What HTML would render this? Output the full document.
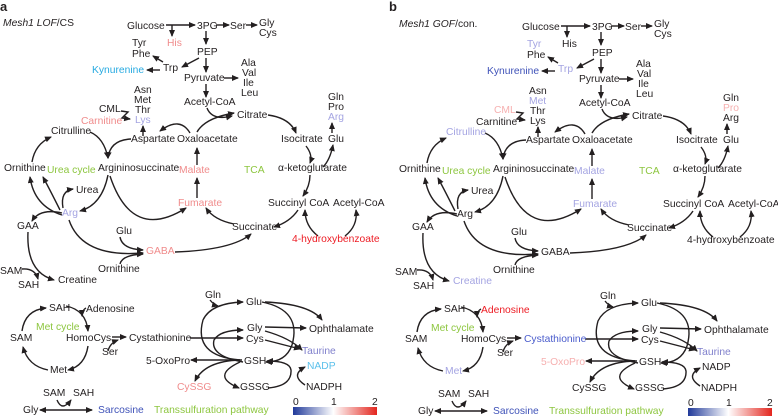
<!DOCTYPE html>
<html><head><meta charset="utf-8"><style>
html,body{margin:0;padding:0;background:#fff}
svg{display:block}
text{font-family:"Liberation Sans",Arial,sans-serif;font-size:10.3px;fill:#231f20}
.g{fill:#8dc63f}.pk{fill:#f08c8c}.lp{fill:#f6b0b0}.lv{fill:#a4a4e2}.bl{fill:#3f52b8}.cy{fill:#27aae1}.rd{fill:#ed1c24}.tb{fill:#8080cc}.nb{fill:#5bc0eb}.mb{fill:#4a5ccc}
</style></head><body>
<svg width="778" height="417" viewBox="0 0 778 417" xmlns="http://www.w3.org/2000/svg">
<defs>
<marker id="ah" markerWidth="7" markerHeight="6" refX="6" refY="3" orient="auto" markerUnits="userSpaceOnUse"><path d="M0,0 L7,3 L0,6 z" fill="#231f20"/></marker>
<marker id="as" markerWidth="7" markerHeight="6" refX="1" refY="3" orient="auto" markerUnits="userSpaceOnUse"><path d="M7,0 L0,3 L7,6 z" fill="#231f20"/></marker>
<linearGradient id="cb" x1="0" x2="1"><stop offset="0" stop-color="#213a9a"/><stop offset="0.48" stop-color="#ffffff"/><stop offset="1" stop-color="#e3261e"/></linearGradient>
<g id="arr" fill="none" stroke="#231f20" stroke-width="1.4" marker-end="url(#ah)">
<path d="M166,25 L195,25"/><path d="M172,25 L172,36"/><path d="M216,25 L229,25"/><path d="M246,25 L257,25"/>
<path d="M206,31 L206,44"/><path d="M199,58 L182,67"/><path d="M206,58 L206,72"/><path d="M163,62 L153,56"/>
<path d="M160,70 L147,70"/><path d="M224,78 L238,78"/><path d="M206,84 L206,97"/>
<path d="M207,108 Q212,121 232,116"/>
<path d="M197,132 Q205,118 234,113"/>
<path d="M268,115 Q290,118 296,133"/><path d="M306,146 Q313,155 310,163"/><path d="M310,175 Q310,186 303,196"/>
<path d="M298,210 Q290,222 274,227"/><path d="M234,224 Q214,220 206,208"/>
<path d="M197,198 L197,178"/><path d="M197,165 L197,148"/>
<path d="M323,167 Q330,160 333,145"/><path d="M332,133 L332,123"/>
<path d="M318,236 Q305,226 305,210"/><path d="M345,236 Q358,226 356,210"/>
<path d="M190,133 Q180,116 160,131"/><path d="M143,136 L143,126"/>
<path d="M121,111 L128,112 L122,118 L130,119"/>
<path d="M131,139 Q110,140 108,158"/><path d="M90,132 Q104,138 108,158"/>
<path d="M108,175 Q102,205 80,211"/><path d="M110,176 Q132,242 186,208"/>
<path d="M62,215 Q34,206 30,177"/><path d="M60,210 Q50,190 43,177"/>
<path d="M32,162 Q35,144 51,137"/><path d="M63,208 Q60,191 73,189"/>
<path d="M62,213 Q40,208 32,221"/>
<path d="M69,220 Q82,258 143,253"/><path d="M120,237 Q122,249 143,250"/><path d="M120,264 Q122,255 143,254"/>
<path d="M175,252 Q232,250 251,234"/>
<path d="M28,232 Q26,272 54,280"/><path d="M22,269 Q35,268 38,279"/>
<path d="M22,331 Q25,310 46,308"/><path d="M66,306 Q86,310 88,331"/><path d="M88,346 Q85,366 68,370"/><path d="M48,370 Q28,366 23,347"/>
<path d="M86,308 Q82,310 82,316"/>
<path d="M112,337 L126,337"/><path d="M108,351 Q110,343 118,340"/><path d="M190,338 L243,338"/>
<path d="M210,300 Q214,305 218,306"/>
<path d="M240,360 Q193,356 203,320 Q211,303 243,302"/>
<path d="M243,362 Q210,356 214,340 Q220,330 243,330"/>
<path d="M262,302 Q302,310 292,345 Q286,362 266,362"/>
<path d="M265,302 Q310,304 322,320"/><path d="M265,327 L306,328"/>
<path d="M265,331 Q290,338 302,350"/><path d="M265,340 L300,349"/>
<path d="M242,360 L191,360"/><path d="M240,360 Q205,361 195,381"/>
<path d="M240,362 Q210,376 239,388"/><path d="M268,388 Q292,386 291,370 Q290,361 267,361"/>
<path d="M305,385 Q290,375 305,367"/>
<path d="M57,400 Q62,412 71,400"/>
<path d="M40,410 L92,410" marker-start="url(#as)"/>
</g>
</defs>

<use href="#arr"/>
<g transform="translate(395,1)"><use href="#arr"/></g>

<!-- panel a -->
<g>
<text x="0" y="11" style="font-weight:bold;font-size:13px">a</text>
<text x="3" y="26"><tspan font-style="italic">Mesh1 LOF</tspan>/CS</text>
<text x="127" y="29">Glucose</text><text x="197" y="29">3PG</text><text x="230" y="29">Ser</text>
<text x="259" y="26">Gly</text><text x="259" y="36">Cys</text>
<text x="167" y="46" class="pk">His</text><text x="132" y="46">Tyr</text><text x="132" y="57">Phe</text>
<text x="197" y="55">PEP</text><text x="163" y="71">Trp</text><text x="92" y="73" class="cy">Kynurenine</text>
<text x="241" y="66">Ala</text><text x="242" y="76">Val</text><text x="243" y="86">Ile</text><text x="241" y="96">Leu</text>
<text x="184" y="81">Pyruvate</text><text x="184" y="105">Acetyl-CoA</text>
<text x="134" y="93">Asn</text><text x="134" y="103">Met</text><text x="135" y="113">Thr</text><text x="135" y="123" class="lv">Lys</text>
<text x="99" y="112">CML</text><text x="81" y="124" class="pk">Carnitine</text>
<text x="237" y="118">Citrate</text>
<text x="328" y="100">Gln</text><text x="328" y="110">Pro</text><text x="328" y="120" class="lv">Arg</text>
<text x="51" y="134">Citrulline</text><text x="131" y="142">Aspartate</text><text x="177" y="142">Oxaloacetate</text>
<text x="281" y="142">Isocitrate</text><text x="328" y="142">Glu</text>
<text x="4" y="171">Ornithine</text><text x="47" y="173" class="g">Urea cycle</text><text x="98" y="171">Argininosuccinate</text>
<text x="179" y="173" class="pk">Malate</text><text x="244" y="173" class="g">TCA</text><text x="278" y="171">α-ketoglutarate</text>
<text x="76" y="193">Urea</text><text x="178" y="206" class="pk">Fumarate</text>
<text x="268" y="206">Succinyl CoA</text><text x="333" y="206">Acetyl-CoA</text>
<text x="62" y="216" class="lv">Arg</text><text x="17" y="229">GAA</text><text x="232" y="230">Succinate</text>
<text x="292" y="242" class="rd">4-hydroxybenzoate</text>
<text x="116" y="234">Glu</text><text x="146" y="254" class="pk">GABA</text><text x="98" y="272">Ornithine</text>
<text x="0" y="274">SAM</text><text x="18" y="288">SAH</text><text x="58" y="283">Creatine</text>
<text x="205" y="298">Gln</text><text x="246" y="305">Glu</text>
<text x="49" y="311">SAH</text><text x="86" y="312">Adenosine</text><text x="36" y="330" class="g">Met cycle</text>
<text x="247" y="331">Gly</text><text x="309" y="332">Ophthalamate</text>
<text x="10" y="341">SAM</text><text x="66" y="341">HomoCys</text><text x="129" y="341">Cystathionine</text><text x="246" y="342">Cys</text>
<text x="102" y="355">Ser</text><text x="302" y="354" class="tb">Taurine</text>
<text x="146" y="364">5-OxoPro</text><text x="244" y="364">GSH</text><text x="307" y="369" class="nb">NADP</text>
<text x="50" y="373">Met</text>
<text x="177" y="390" class="pk">CySSG</text><text x="240" y="390">GSSG</text><text x="306" y="390">NADPH</text>
<text x="43" y="396">SAM</text><text x="73" y="396">SAH</text>
<text x="23" y="413">Gly</text><text x="98" y="413" class="bl">Sarcosine</text>
<text x="154" y="413" class="g">Transsulfuration pathway</text>
<rect x="293" y="407" width="84" height="8" fill="url(#cb)"/>
<text x="293" y="405">0</text><text x="331" y="405">1</text><text x="372" y="405">2</text>
</g>

<!-- panel b -->
<g transform="translate(395,1)">
<text x="-6" y="10" style="font-weight:bold;font-size:13px">b</text>
<text x="4" y="26"><tspan font-style="italic">Mesh1 GOF</tspan>/con.</text>
<text x="127" y="29">Glucose</text><text x="197" y="29">3PG</text><text x="230" y="29">Ser</text>
<text x="259" y="26">Gly</text><text x="259" y="36">Cys</text>
<text x="167" y="46">His</text><text x="132" y="46" class="lv">Tyr</text><text x="132" y="57">Phe</text>
<text x="197" y="55">PEP</text><text x="163" y="71" class="lv">Trp</text><text x="92" y="73" class="bl">Kynurenine</text>
<text x="241" y="66">Ala</text><text x="242" y="76">Val</text><text x="243" y="86">Ile</text><text x="241" y="96">Leu</text>
<text x="184" y="81">Pyruvate</text><text x="184" y="105">Acetyl-CoA</text>
<text x="134" y="93">Asn</text><text x="134" y="103" class="lv">Met</text><text x="135" y="113">Thr</text><text x="135" y="123">Lys</text>
<text x="99" y="112" class="lp">CML</text><text x="81" y="124">Carnitine</text>
<text x="237" y="118">Citrate</text>
<text x="328" y="100">Gln</text><text x="328" y="110" class="lp">Pro</text><text x="328" y="120">Arg</text>
<text x="51" y="134" class="lv">Citrulline</text><text x="131" y="142">Aspartate</text><text x="177" y="142">Oxaloacetate</text>
<text x="281" y="142">Isocitrate</text><text x="328" y="142">Glu</text>
<text x="4" y="171">Ornithine</text><text x="47" y="173" class="g">Urea cycle</text><text x="98" y="171">Argininosuccinate</text>
<text x="179" y="173" class="lv">Malate</text><text x="244" y="173" class="g">TCA</text><text x="278" y="171">α-ketoglutarate</text>
<text x="76" y="193">Urea</text><text x="178" y="206" class="lv">Fumarate</text>
<text x="268" y="206">Succinyl CoA</text><text x="333" y="206">Acetyl-CoA</text>
<text x="62" y="216">Arg</text><text x="17" y="229">GAA</text><text x="232" y="230">Succinate</text>
<text x="292" y="242">4-hydroxybenzoate</text>
<text x="116" y="234">Glu</text><text x="146" y="254">GABA</text><text x="98" y="272">Ornithine</text>
<text x="0" y="274">SAM</text><text x="18" y="288">SAH</text><text x="58" y="283" class="lv">Creatine</text>
<text x="205" y="298">Gln</text><text x="246" y="305">Glu</text>
<text x="49" y="311">SAH</text><text x="86" y="312" class="rd">Adenosine</text><text x="36" y="330" class="g">Met cycle</text>
<text x="247" y="331">Gly</text><text x="309" y="332">Ophthalamate</text>
<text x="10" y="341">SAM</text><text x="66" y="341">HomoCys</text><text x="129" y="341" class="mb">Cystathionine</text><text x="246" y="342">Cys</text>
<text x="102" y="355">Ser</text><text x="302" y="354" class="tb">Taurine</text>
<text x="146" y="364" class="lp">5-OxoPro</text><text x="244" y="364">GSH</text><text x="307" y="369">NADP</text>
<text x="50" y="373" class="lv">Met</text>
<text x="177" y="390">CySSG</text><text x="240" y="390">GSSG</text><text x="306" y="390">NADPH</text>
<text x="43" y="396">SAM</text><text x="73" y="396">SAH</text>
<text x="23" y="413">Gly</text><text x="98" y="413" class="bl">Sarcosine</text>
<text x="154" y="413" class="g">Transsulfuration pathway</text>
<rect x="293" y="407" width="84" height="8" fill="url(#cb)"/>
<text x="293" y="405">0</text><text x="331" y="405">1</text><text x="372" y="405">2</text>
</g>
</svg>
</body></html>
